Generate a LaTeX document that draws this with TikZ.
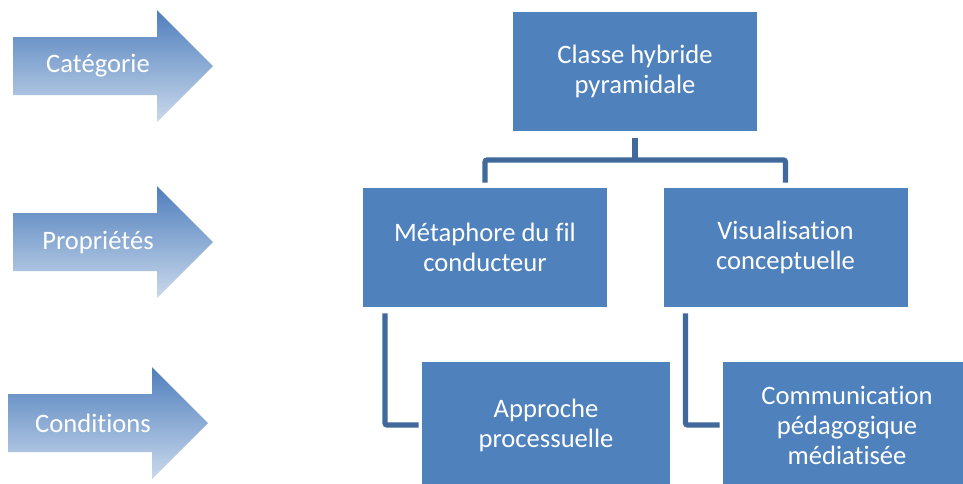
\documentclass[tikz,border=0pt]{standalone}
\usepackage{fontspec}
\setmainfont{Carlito}[Ligatures=CommonOff]
\usetikzlibrary{calc,positioning}
\definecolor{boxblue}{HTML}{4F81BD}
\definecolor{linkblue}{HTML}{41699C}
\definecolor{arrowtop}{HTML}{4F7FBC}
\definecolor{arrowbot}{HTML}{CAD9EC}
\tikzset{every node/.append style={font=\fontsize{13.3}{15}\selectfont}}

\begin{document}
\begin{tikzpicture}[x=0.5pt,y=-0.5pt,
  box/.style={fill=boxblue,text=white,align=center,inner sep=0pt,
    minimum width=122pt,minimum height=59.5pt},
  lowbox/.style={box,minimum width=124pt,minimum height=63pt},
  link/.style={draw=linkblue,line width=2.6pt,rounded corners=1pt}]
  \useasboundingbox (0,0) rectangle (963,483);
  \clip (0,0) rectangle (963,483);
  % level arrows on the left
  \foreach \x/\y/\nm/\txt in {13/66/cat/Catégorie,13/242/prop/Propriétés,8/423/cond/Conditions}{
    \shade[top color=arrowtop,bottom color=arrowbot]
      (\x,\y-29) -- ++(144,0) -- ++(0,-27) -- (\x+200,\y)
      -- (\x+144,\y+56) -- ++(0,-27) -- (\x,\y+29) -- cycle;
    \node[text=white] (\nm) at (\x+85,\y) {\txt};
  }
  % hierarchy
  \node[box] (top) at (635,71) {Classe hybride\\pyramidale};
  \node[box] (meta) at (485,247.5) {Métaphore du fil\\conducteur};
  \node[box] (visu) at (785.5,247.5) {Visualisation\\conceptuelle};
  \node[lowbox] (appr) at (546,425) {Approche\\processuelle};
  \node[lowbox] (comm) at (847,425) {Communication\\pédagogique\\médiatisée};
  \coordinate (fork) at (635,160);
  \draw[link] ([yshift=-3.5pt]top.south) -- (fork);
  \draw[link] ([yshift=2.5pt]meta.north) |- (fork) -| ([yshift=2.5pt]visu.north);
  \draw[link] ([xshift=-50pt,yshift=-3pt]meta.south) |- ([xshift=-1.5pt]appr.west);
  \draw[link] ([xshift=-50pt,yshift=-3pt]visu.south) |- ([xshift=-1.5pt]comm.west);
\end{tikzpicture}
\end{document}
